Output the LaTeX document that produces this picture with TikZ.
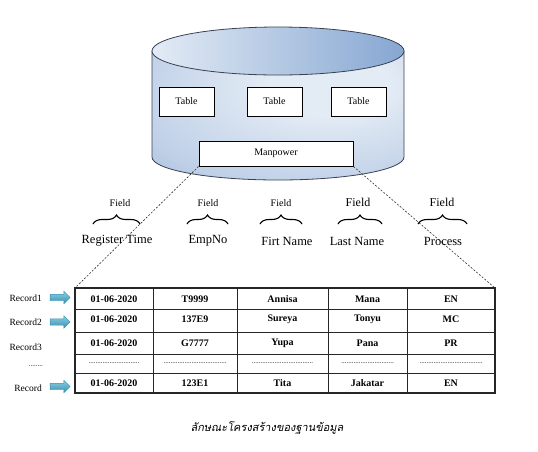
\documentclass[tikz,border=0pt]{standalone}
\usepackage{fontspec}
\setmainfont{Liberation Serif}
\newfontfamily\thaifont[Script=Thai,FakeSlant=0.2]{Loma}
\usetikzlibrary{decorations.pathreplacing,shapes.arrows}
\definecolor{cylLight}{HTML}{E3EBF5}
\definecolor{cylMid}{HTML}{BFD0E7}
\definecolor{cylDark}{HTML}{86A7D2}
\definecolor{cylEdge}{HTML}{3A4252}
\definecolor{arrTop}{HTML}{8ED0E4}
\definecolor{arrBot}{HTML}{3390AE}
\pgfdeclareradialshading{cylbody}{\pgfpoint{12bp}{14bp}}{color(0bp)=(cylLight);color(12bp)=(cylLight);color(36bp)=(cylMid);color(58bp)=(cylDark);color(80bp)=(cylDark)}
\tikzset{
  tbox/.style={draw, fill=white, line width=0.8pt, inner sep=0pt, font=\fontsize{10}{12}\selectfont},
  fieldlbl/.style={font=\fontsize{10}{12}\selectfont},
  fieldlblbig/.style={font=\fontsize{12}{14}\selectfont},
  fname/.style={font=\fontsize{12.5}{14}\selectfont},
  fbrace/.style={decorate, decoration={brace, amplitude=9pt}, line width=1.1pt},
  cell/.style={font=\bfseries\fontsize{10}{12}\selectfont, inner sep=0pt},
  dotcell/.style={font=\fontsize{7}{9}\selectfont, inner sep=0pt},
  reclbl/.style={font=\fontsize{9.5}{11}\selectfont, anchor=east, inner sep=0pt},
  recarrow/.style={shape=single arrow, minimum height=20pt, inner xsep=0pt, inner ysep=3pt,
    single arrow head extend=3pt, single arrow head indent=0pt,
    top color=arrTop, bottom color=arrBot, draw=arrBot, line width=0.4pt},
  conn/.style={dash pattern=on 2pt off 1.6pt, line width=0.6pt, draw=black!80},
  grid/.style={line width=0.9pt, draw=black!85}
}
\begin{document}
\begin{tikzpicture}[x=1pt,y=1pt]
\useasboundingbox (0,0) rectangle (538,-451);
% cylinder
\shade[shading=cylbody, draw=cylEdge, line width=0.8pt]
  (152,-51) -- (152,-157) arc[start angle=180, end angle=360, x radius=126, y radius=23] -- (404,-51) -- cycle;
\shade[left color=cylLight, right color=cylDark, draw=cylEdge, line width=0.8pt]
  (278,-51) ellipse [x radius=126, y radius=24];
% tables
\node[tbox, minimum width=55pt, minimum height=29pt] (t1) at (186.5,-101.5) {Table};
\node[tbox, minimum width=55pt, minimum height=29pt] (t2) at (274.5,-101.5) {Table};
\node[tbox, minimum width=55pt, minimum height=29pt] (t3) at (358.5,-101.5) {Table};
\node[tbox, minimum width=154pt, minimum height=25pt] (mp) at (276,-153.5) {Manpower};
% table corners
\coordinate (tl) at (75,-288);
\coordinate (tr) at (495,-288);
\draw[conn] (mp.south west) -- (tl);
\draw[conn] (mp.south east) -- (tr);
% fields
\node[fieldlbl] (f1) at (120,-203) {Field};
\node[fieldlbl] (f2) at (208,-203) {Field};
\node[fieldlbl] (f3) at (281,-203) {Field};
\node[fieldlblbig] (f4) at (358,-202) {Field};
\node[fieldlblbig] (f5) at (442,-202) {Field};
\draw[fbrace] (93,-224) -- (140,-224);
\draw[fbrace] (187,-224) -- (228,-224);
\draw[fbrace] (260,-224) -- (302,-224);
\draw[fbrace] (338,-224) -- (382,-224);
\draw[fbrace] (418,-224) -- (467,-224);
\node[fname] (n1) at (117,-241) {Register Time};
\node[fname] (n2) at (208,-241) {EmpNo};
\node[fname] (n3) at (287,-241) {Firt Name};
\node[fname] (n4) at (357,-241) {Last Name};
\node[fname] (n5) at (443,-241) {Process};
% grid
\draw[grid, line width=1.1pt] (75,-288) rectangle (495,-393);
\foreach \yy in {309,332,354,373} \draw[grid] (75,-\yy) -- (495,-\yy);
\foreach \xx in {153,237,328,407} \draw[grid] (\xx,-288) -- (\xx,-393);
% row 1
\node[cell] (c11) at (114,-299) {01-06-2020};
\node[cell] (c12) at (195,-299) {T9999};
\node[cell] (c13) at (282.5,-299) {Annisa};
\node[cell] (c14) at (367.5,-299) {Mana};
\node[cell] (c15) at (451,-299) {EN};
% row 2
\node[cell] (c21) at (114,-319.5) {01-06-2020};
\node[cell] (c22) at (195,-319.5) {137E9};
\node[cell] (c23) at (282.5,-319.5) {Sureya};
\node[cell] (c24) at (367.5,-319.5) {Tonyu};
\node[cell] (c25) at (451,-319.5) {MC};
% row 3
\node[cell] (c31) at (114,-343) {01-06-2020};
\node[cell] (c32) at (195,-343) {G7777};
\node[cell] (c33) at (282.5,-343) {Yupa};
\node[cell] (c34) at (367.5,-343) {Pana};
\node[cell] (c35) at (451,-343) {PR};
% row 4
\node[dotcell] (c41) at (114,-363) {.............................};
\node[dotcell] (c42) at (195,-363) {....................................};
\node[dotcell] (c43) at (282.5,-363) {...................................};
\node[dotcell] (c44) at (367.5,-363) {..............................};
\node[dotcell] (c45) at (451,-363) {....................................};
% row 5
\node[cell] (c51) at (114,-383) {01-06-2020};
\node[cell] (c52) at (195,-383) {123E1};
\node[cell] (c53) at (282.5,-383) {Tita};
\node[cell] (c54) at (367.5,-383) {Jakatar};
\node[cell] (c55) at (451,-383) {EN};
% record labels
\node[reclbl] (r1) at (42,-298) {Record1};
\node[reclbl] (r2) at (42,-322) {Record2};
\node[reclbl] (r3) at (42,-347) {Record3};
\node[dotcell, anchor=east] (r4) at (43,-366) {........};
\node[reclbl] (r5) at (42,-388) {Record};
\node[recarrow] (a1) at (58.5,-297.5) {};
\node[recarrow] (a2) at (58.5,-322) {};
\node[recarrow] (a5) at (58.5,-386.5) {};
% caption
\node[font=\thaifont\fontsize{11}{13}\selectfont] (cap) at (267,-428) {ลักษณะโครงสร้างของฐานข้อมูล};
\end{tikzpicture}
\end{document}
